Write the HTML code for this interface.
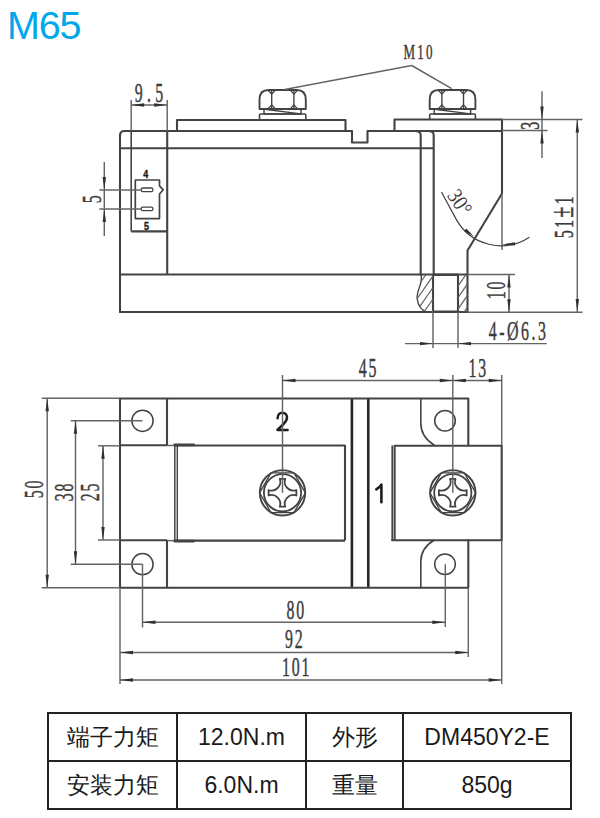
<!DOCTYPE html>
<html><head><meta charset="utf-8"><style>
html,body{margin:0;padding:0;background:#fff;width:600px;height:818px;overflow:hidden}
svg{position:absolute;left:0;top:0}
table{position:absolute;left:47px;top:711.5px;border-collapse:collapse;font-family:"Liberation Sans",sans-serif;font-size:23px;color:#1a1a1a}
td{border:2px solid #222;height:44px;padding:2px 0 0 0;text-align:center}
</style></head><body>
<svg width="600" height="818" viewBox="0 0 600 818" stroke-linecap="butt">
<text x="7" y="39.4" font-family="Liberation Sans, sans-serif" font-size="39.5" fill="#00a7eb" letter-spacing="-1.2">M65</text>
<path d="M120,312 L120,135.5 Q120,131 124.5,131 L352,131 L352,142.5 L367.5,142.5 L367.5,131 L502,131" stroke="#434343" stroke-width="2.1" fill="none" stroke-linejoin="round" stroke-linecap="round" />
<path d="M177,131 L177,120 L345.5,120 L345.5,131" stroke="#434343" stroke-width="2.1" fill="none" stroke-linejoin="round" stroke-linecap="round" />
<path d="M394.5,131 L394.5,119.5 L502,119.5 L502,193.5 L467.5,250.5 L467.5,312 L120,312" stroke="#434343" stroke-width="2.1" fill="none" stroke-linejoin="round" stroke-linecap="round" />
<line x1="120" y1="148.3" x2="434" y2="148.3" stroke="#434343" stroke-width="2.1"/>
<line x1="167.2" y1="131" x2="167.2" y2="274.5" stroke="#434343" stroke-width="2.1"/>
<line x1="131.2" y1="131" x2="131.2" y2="231.5" stroke="#3a3a3a" stroke-width="1.5"/>
<line x1="131.2" y1="231.4" x2="167.2" y2="231.4" stroke="#434343" stroke-width="2.1"/>
<line x1="120" y1="274.5" x2="467.5" y2="274.5" stroke="#434343" stroke-width="2.1"/>
<path d="M416.5,131.2 Q420.7,131.2 420.7,135.4 L420.7,274.5" stroke="#434343" stroke-width="2.1" fill="none" stroke-linejoin="round" stroke-linecap="round" />
<path d="M429.5,131.2 Q433.7,131.2 433.7,135.4 L433.7,274.5" stroke="#434343" stroke-width="2.1" fill="none" stroke-linejoin="round" stroke-linecap="round" />
<line x1="433" y1="274.5" x2="433" y2="312" stroke="#434343" stroke-width="2.1"/>
<line x1="458" y1="274.5" x2="458" y2="312" stroke="#434343" stroke-width="2.1"/>
<line x1="433" y1="274.8" x2="458" y2="274.8" stroke="#434343" stroke-width="2.4"/>
<line x1="433" y1="311.7" x2="458" y2="311.7" stroke="#434343" stroke-width="2.4"/>
<path d="M421,274.5 C423.5,283 416,291 417.2,299 C418,305 421.5,310 426,312" stroke="#434343" stroke-width="1.4" fill="none" stroke-linejoin="round" stroke-linecap="round" />
<clipPath id="hl"><path d="M421,274.5 C423.5,283 416,291 417.2,299 C418,305 421.5,310 426,312 L433,312 L433,274.5 Z"/></clipPath>
<clipPath id="hr"><rect x="458" y="274.5" width="9.5" height="37.5"/></clipPath>
<g clip-path="url(#hl)" stroke="#646464" stroke-width="1.25"><line x1="384" y1="312" x2="410" y2="274.5"/><line x1="392" y1="312" x2="418" y2="274.5"/><line x1="400" y1="312" x2="426" y2="274.5"/><line x1="408" y1="312" x2="434" y2="274.5"/><line x1="416" y1="312" x2="442" y2="274.5"/><line x1="424" y1="312" x2="450" y2="274.5"/><line x1="432" y1="312" x2="458" y2="274.5"/><line x1="440" y1="312" x2="466" y2="274.5"/><line x1="448" y1="312" x2="474" y2="274.5"/><line x1="456" y1="312" x2="482" y2="274.5"/><line x1="464" y1="312" x2="490" y2="274.5"/></g>
<g clip-path="url(#hr)" stroke="#646464" stroke-width="1.25"><line x1="384" y1="312" x2="410" y2="274.5"/><line x1="392" y1="312" x2="418" y2="274.5"/><line x1="400" y1="312" x2="426" y2="274.5"/><line x1="408" y1="312" x2="434" y2="274.5"/><line x1="416" y1="312" x2="442" y2="274.5"/><line x1="424" y1="312" x2="450" y2="274.5"/><line x1="432" y1="312" x2="458" y2="274.5"/><line x1="440" y1="312" x2="466" y2="274.5"/><line x1="448" y1="312" x2="474" y2="274.5"/><line x1="456" y1="312" x2="482" y2="274.5"/><line x1="464" y1="312" x2="490" y2="274.5"/></g>
<path d="M135.3,180 L159.5,180 L159.5,185.8 L163.2,189.8 L159.5,194 L159.5,218.6 L135.3,218.6 Z" stroke="#434343" stroke-width="1.7" fill="none" stroke-linejoin="round" stroke-linecap="round" />
<rect x="141.2" y="188" width="11.7" height="3.6" rx="1.6" fill="none" stroke="#434343" stroke-width="1.3"/>
<rect x="141.2" y="207.1" width="11.7" height="3.6" rx="1.6" fill="none" stroke="#434343" stroke-width="1.3"/>
<text x="145.7" y="177.5" font-family="Liberation Sans, sans-serif" font-size="11.5" font-weight="bold" fill="#222" stroke="#222" stroke-width="0.4" text-anchor="middle" textLength="5" lengthAdjust="spacingAndGlyphs">4</text>
<text x="146.5" y="229.8" font-family="Liberation Sans, sans-serif" font-size="11.5" font-weight="bold" fill="#222" stroke="#222" stroke-width="0.4" text-anchor="middle" textLength="5" lengthAdjust="spacingAndGlyphs">5</text>
<path d="M259.5,109 L259.5,99.5 C259.5,93 262.5,90 268.5,90 L296.8,90 C302.8,90 305.8,93 305.8,99.5 L305.8,109 Z" stroke="#434343" stroke-width="1.9" fill="none" stroke-linejoin="round" stroke-linecap="round" />
<line x1="271.7" y1="90" x2="271.7" y2="109" stroke="#434343" stroke-width="1.4"/>
<line x1="293.90000000000003" y1="90" x2="293.90000000000003" y2="109" stroke="#434343" stroke-width="1.4"/>
<path d="M267.9,90 L271.7,94.2 L275.5,90 M267.9,109 L271.7,104.8 L275.5,109" stroke="#434343" stroke-width="1.2" fill="none"/>
<path d="M290.1,90 L293.90000000000003,94.2 L297.70000000000005,90 M290.1,109 L293.90000000000003,104.8 L297.70000000000005,109" stroke="#434343" stroke-width="1.2" fill="none"/>
<path d="M264.0,109 L264.0,114 L301.0,114 L301.0,109" stroke="#434343" stroke-width="1.5" fill="none" stroke-linejoin="round" stroke-linecap="round" />
<path d="M266.5,109.5 L300.8,113.8" stroke="#434343" stroke-width="1.3" fill="none" stroke-linejoin="round" stroke-linecap="round" />
<path d="M259.5,119.5 L259.5,115 Q259.5,114 260.5,114 L304.8,114 Q305.8,114 305.8,115 L305.8,119.5" stroke="#434343" stroke-width="1.6" fill="none" stroke-linejoin="round" stroke-linecap="round" />
<path d="M429.7,109 L429.7,99.5 C429.7,93 432.7,90 438.7,90 L466.4,90 C472.4,90 475.4,93 475.4,99.5 L475.4,109 Z" stroke="#434343" stroke-width="1.9" fill="none" stroke-linejoin="round" stroke-linecap="round" />
<line x1="441.9" y1="90" x2="441.9" y2="109" stroke="#434343" stroke-width="1.4"/>
<line x1="463.5" y1="90" x2="463.5" y2="109" stroke="#434343" stroke-width="1.4"/>
<path d="M438.09999999999997,90 L441.9,94.2 L445.7,90 M438.09999999999997,109 L441.9,104.8 L445.7,109" stroke="#434343" stroke-width="1.2" fill="none"/>
<path d="M459.7,90 L463.5,94.2 L467.3,90 M459.7,109 L463.5,104.8 L467.3,109" stroke="#434343" stroke-width="1.2" fill="none"/>
<path d="M434.2,109 L434.2,114 L470.59999999999997,114 L470.59999999999997,109" stroke="#434343" stroke-width="1.5" fill="none" stroke-linejoin="round" stroke-linecap="round" />
<path d="M436.7,109.5 L470.4,113.8" stroke="#434343" stroke-width="1.3" fill="none" stroke-linejoin="round" stroke-linecap="round" />
<path d="M429.7,119.5 L429.7,115 Q429.7,114 430.7,114 L474.4,114 Q475.4,114 475.4,115 L475.4,119.5" stroke="#434343" stroke-width="1.6" fill="none" stroke-linejoin="round" stroke-linecap="round" />
<line x1="411.7" y1="65.5" x2="284.7" y2="89.5" stroke="#646464" stroke-width="1.45"/>
<line x1="411.7" y1="65.5" x2="451.7" y2="88.7" stroke="#646464" stroke-width="1.45"/>
<g class="t" transform="translate(418,59) rotate(0) scale(0.65,1)"><text x="1.7" y="0" font-family="Liberation Serif, serif" font-size="20" fill="#3c3c3c" stroke="#3c3c3c" stroke-width="0.45" text-anchor="middle" letter-spacing="3.4">M10</text></g>
<line x1="131.2" y1="100" x2="131.2" y2="131" stroke="#646464" stroke-width="1.45"/>
<line x1="167.2" y1="100" x2="167.2" y2="131" stroke="#646464" stroke-width="1.45"/>
<line x1="131.2" y1="105" x2="167.2" y2="105" stroke="#646464" stroke-width="1.45"/>
<path d="M131.20,105.00 L144.20,103.30 L144.20,106.70 Z" fill="#303030"/>
<path d="M167.20,105.00 L154.20,106.70 L154.20,103.30 Z" fill="#303030"/>
<g class="t" transform="translate(149,102) rotate(0) scale(0.6,1)"><text x="3.5" y="0" font-family="Liberation Serif, serif" font-size="26.5" fill="#3c3c3c" stroke="#3c3c3c" stroke-width="0.45" text-anchor="middle" letter-spacing="7">9.5</text></g>
<line x1="99.3" y1="189.9" x2="141" y2="189.9" stroke="#646464" stroke-width="1.45"/>
<line x1="99.3" y1="208.9" x2="141" y2="208.9" stroke="#646464" stroke-width="1.45"/>
<line x1="104.3" y1="162" x2="104.3" y2="236" stroke="#646464" stroke-width="1.45"/>
<path d="M104.30,189.90 L102.60,176.90 L106.00,176.90 Z" fill="#303030"/>
<path d="M104.30,209.00 L106.00,222.00 L102.60,222.00 Z" fill="#303030"/>
<g class="t" transform="translate(101,199.3) rotate(-90) scale(0.6,1)"><text x="1.5" y="0" font-family="Liberation Serif, serif" font-size="26.5" fill="#3c3c3c" stroke="#3c3c3c" stroke-width="0.45" text-anchor="middle" letter-spacing="3.0">5</text></g>
<line x1="502" y1="119.5" x2="582.5" y2="119.5" stroke="#646464" stroke-width="1.45"/>
<line x1="502" y1="130.5" x2="547.5" y2="130.5" stroke="#646464" stroke-width="1.45"/>
<line x1="542" y1="91.3" x2="542" y2="158" stroke="#646464" stroke-width="1.45"/>
<path d="M542.00,119.50 L540.30,106.50 L543.70,106.50 Z" fill="#303030"/>
<path d="M542.00,130.50 L543.70,143.50 L540.30,143.50 Z" fill="#303030"/>
<g class="t" transform="translate(538.7,125.6) rotate(-90) scale(0.6,1)"><text x="1.5" y="0" font-family="Liberation Serif, serif" font-size="27" fill="#3c3c3c" stroke="#3c3c3c" stroke-width="0.45" text-anchor="middle" letter-spacing="3.0">3</text></g>
<line x1="577.3" y1="119.5" x2="577.3" y2="312" stroke="#646464" stroke-width="1.45"/>
<path d="M577.30,119.50 L579.00,132.50 L575.60,132.50 Z" fill="#303030"/>
<path d="M577.30,312.00 L575.60,299.00 L579.00,299.00 Z" fill="#303030"/>
<g class="t" transform="translate(573.2,217.3) rotate(-90) scale(0.6,1)"><text x="1.75" y="0" font-family="Liberation Serif, serif" font-size="27" fill="#3c3c3c" stroke="#3c3c3c" stroke-width="0.45" text-anchor="middle" letter-spacing="3.5">51<tspan font-size="34">±</tspan>1</text></g>
<line x1="467.5" y1="274.5" x2="515" y2="274.5" stroke="#646464" stroke-width="1.45"/>
<line x1="467.5" y1="312.3" x2="582.5" y2="312.3" stroke="#646464" stroke-width="1.45"/>
<line x1="509" y1="274.5" x2="509" y2="312" stroke="#646464" stroke-width="1.45"/>
<path d="M509.00,274.50 L510.70,287.50 L507.30,287.50 Z" fill="#303030"/>
<path d="M509.00,312.30 L507.30,299.30 L510.70,299.30 Z" fill="#303030"/>
<g class="t" transform="translate(505,290.5) rotate(-90) scale(0.6,1)"><text x="1.5" y="0" font-family="Liberation Serif, serif" font-size="26.5" fill="#3c3c3c" stroke="#3c3c3c" stroke-width="0.45" text-anchor="middle" letter-spacing="3.0">10</text></g>
<line x1="433" y1="312" x2="433" y2="348" stroke="#646464" stroke-width="1.45"/>
<line x1="458" y1="312" x2="458" y2="348" stroke="#646464" stroke-width="1.45"/>
<line x1="405" y1="343.6" x2="546.8" y2="343.6" stroke="#646464" stroke-width="1.45"/>
<path d="M433.00,343.60 L420.00,345.30 L420.00,341.90 Z" fill="#303030"/>
<path d="M458.00,343.60 L471.00,341.90 L471.00,345.30 Z" fill="#303030"/>
<g class="t" transform="translate(517.3,340.2) rotate(0) scale(0.6,1)"><text x="2.1" y="0" font-family="Liberation Serif, serif" font-size="26.5" fill="#3c3c3c" stroke="#3c3c3c" stroke-width="0.45" text-anchor="middle" letter-spacing="4.2">4-Ø6.3</text></g>
<line x1="502" y1="193.5" x2="502" y2="250" stroke="#646464" stroke-width="1.45"/>
<path d="M441.7,192.5 L456.4,219.6 A51.3,51.3 0 0 0 529,237.5" stroke="#434343" stroke-width="1.2" fill="none" stroke-linejoin="round" stroke-linecap="round" />
<path d="M474.00,236.50 L464.18,231.26 L466.22,228.54 Z" fill="#303030"/>
<path d="M502.00,244.50 L514.90,242.15 L515.07,245.55 Z" fill="#303030"/>
<text x="0" y="0" font-family="Liberation Serif, serif" font-size="22" fill="#3c3c3c" textLength="26" lengthAdjust="spacingAndGlyphs" transform="translate(446.5,195.5) rotate(56)">30°</text>
<path d="M468.3,445 L468.3,398.5 L120,398.5 L120,587.7 L468.3,587.7 L468.3,540" stroke="#434343" stroke-width="2.1" fill="none" stroke-linejoin="round" stroke-linecap="round" />
<line x1="120" y1="445.3" x2="167" y2="445.3" stroke="#434343" stroke-width="2.1"/>
<line x1="167" y1="445.5" x2="175" y2="445.5" stroke="#646464" stroke-width="1.45"/>
<line x1="175" y1="445.5" x2="345" y2="445.5" stroke="#434343" stroke-width="2.1"/>
<path d="M174.6,444.9 L193.8,444.9" stroke="#434343" stroke-width="2.6" fill="none" stroke-linejoin="round" stroke-linecap="round" />
<line x1="167" y1="398.5" x2="167" y2="445" stroke="#434343" stroke-width="2.1"/>
<line x1="120" y1="540.3" x2="167" y2="540.3" stroke="#434343" stroke-width="2.1"/>
<line x1="167" y1="540.6" x2="175" y2="540.6" stroke="#646464" stroke-width="1.45"/>
<line x1="175" y1="540.6" x2="345" y2="540.6" stroke="#434343" stroke-width="2.1"/>
<path d="M174.6,541.1 L193.8,541.1" stroke="#434343" stroke-width="2.6" fill="none" stroke-linejoin="round" stroke-linecap="round" />
<line x1="167" y1="540.3" x2="167" y2="587.7" stroke="#434343" stroke-width="2.1"/>
<path d="M174.8,445 L174.8,541" stroke="#434343" stroke-width="1.5" fill="none" stroke-linejoin="round" stroke-linecap="round" />
<path d="M177.3,445.5 L177.3,540.5" stroke="#434343" stroke-width="1.4" fill="none" stroke-linejoin="round" stroke-linecap="round" />
<line x1="345" y1="445" x2="345" y2="540.3" stroke="#434343" stroke-width="2.1"/>
<circle cx="142.5" cy="420.8" r="10.6" fill="none" stroke="#434343" stroke-width="1.5"/>
<circle cx="142.5" cy="564.2" r="10.6" fill="none" stroke="#434343" stroke-width="1.5"/>
<circle cx="445" cy="420.8" r="10.3" fill="none" stroke="#434343" stroke-width="1.5"/>
<circle cx="445" cy="564.2" r="10.3" fill="none" stroke="#434343" stroke-width="1.5"/>
<path d="M420.8,398.5 L420.8,423 C420.8,434 426,440 434,445" stroke="#434343" stroke-width="1.6" fill="none" stroke-linejoin="round" stroke-linecap="round" />
<path d="M420.8,587.7 L420.8,561.7 C420.8,551 426,545 434,540.3" stroke="#434343" stroke-width="1.6" fill="none" stroke-linejoin="round" stroke-linecap="round" />
<path d="M351.9,400 L351.9,586" stroke="#262626" stroke-width="2.6" fill="none" stroke-linejoin="round" stroke-linecap="round" />
<path d="M368.3,400 L368.3,586" stroke="#262626" stroke-width="2.6" fill="none" stroke-linejoin="round" stroke-linecap="round" />
<path d="M394.6,540.3 L394.6,445.8 L501.7,445.8 L501.7,540.3 L392.2,540.3" stroke="#434343" stroke-width="2.1" fill="none" stroke-linejoin="round" stroke-linecap="round" />
<path d="M392.2,446 L392.2,540.3" stroke="#434343" stroke-width="1.6" fill="none" stroke-linejoin="round" stroke-linecap="round" />
<circle cx="282.5" cy="492.8" r="22.7" fill="none" stroke="#434343" stroke-width="1.9"/>
<circle cx="282.5" cy="492.8" r="18.6" fill="none" stroke="#434343" stroke-width="1.8"/>
<polygon points="305.40,492.80 293.95,512.63 271.05,512.63 259.60,492.80 271.05,472.97 293.95,472.97" fill="none" stroke="#434343" stroke-width="1.3"/>
<path d="M279.8,478.90000000000003 L285.2,478.90000000000003 A8.8,8.8 0 0 0 296.4,490.1 L296.4,495.5 A8.8,8.8 0 0 0 285.2,506.7 L279.8,506.7 A8.8,8.8 0 0 0 268.6,495.5 L268.6,490.1 A8.8,8.8 0 0 0 279.8,478.90000000000003 Z" stroke="#434343" stroke-width="1.8" fill="none" stroke-linejoin="round" stroke-linecap="round" />
<circle cx="452.8" cy="492.8" r="22.7" fill="none" stroke="#434343" stroke-width="1.9"/>
<circle cx="452.8" cy="492.8" r="18.6" fill="none" stroke="#434343" stroke-width="1.8"/>
<polygon points="475.70,492.80 464.25,512.63 441.35,512.63 429.90,492.80 441.35,472.97 464.25,472.97" fill="none" stroke="#434343" stroke-width="1.3"/>
<path d="M450.1,478.90000000000003 L455.5,478.90000000000003 A8.8,8.8 0 0 0 466.7,490.1 L466.7,495.5 A8.8,8.8 0 0 0 455.5,506.7 L450.1,506.7 A8.8,8.8 0 0 0 438.90000000000003,495.5 L438.90000000000003,490.1 A8.8,8.8 0 0 0 450.1,478.90000000000003 Z" stroke="#434343" stroke-width="1.8" fill="none" stroke-linejoin="round" stroke-linecap="round" />
<path d="M277.6,418.2 C277.6,414.6 279.8,412.7 282.4,412.7 C285.2,412.7 287,414.8 287,417.6 C287,420.2 285.6,421.9 283.6,424 L277.4,429.9 L287.6,429.9" stroke="#1e1e1e" stroke-width="2.5" fill="none" stroke-linejoin="round" stroke-linecap="round" />
<path d="M376.3,489.3 C378.5,488 380.3,486.5 381.4,484.6 L381.4,502.3" stroke="#1e1e1e" stroke-width="2.6" fill="none" stroke-linejoin="round" stroke-linecap="round" />
<line x1="41.7" y1="398.3" x2="120" y2="398.3" stroke="#646464" stroke-width="1.45"/>
<line x1="41.7" y1="587.7" x2="120" y2="587.7" stroke="#646464" stroke-width="1.45"/>
<line x1="47.2" y1="398.3" x2="47.2" y2="587.7" stroke="#646464" stroke-width="1.45"/>
<path d="M47.20,398.30 L48.90,411.30 L45.50,411.30 Z" fill="#303030"/>
<path d="M47.20,587.70 L45.50,574.70 L48.90,574.70 Z" fill="#303030"/>
<g class="t" transform="translate(42.5,489.5) rotate(-90) scale(0.6,1)"><text x="1.5" y="0" font-family="Liberation Serif, serif" font-size="26.5" fill="#3c3c3c" stroke="#3c3c3c" stroke-width="0.45" text-anchor="middle" letter-spacing="3.0">50</text></g>
<line x1="70.8" y1="420.8" x2="142.5" y2="420.8" stroke="#646464" stroke-width="1.45"/>
<line x1="70.8" y1="564.2" x2="142.5" y2="564.2" stroke="#646464" stroke-width="1.45"/>
<line x1="75.5" y1="420.8" x2="75.5" y2="564.2" stroke="#646464" stroke-width="1.45"/>
<path d="M75.50,420.80 L77.20,433.80 L73.80,433.80 Z" fill="#303030"/>
<path d="M75.50,564.20 L73.80,551.20 L77.20,551.20 Z" fill="#303030"/>
<g class="t" transform="translate(72.5,492.3) rotate(-90) scale(0.6,1)"><text x="1.5" y="0" font-family="Liberation Serif, serif" font-size="26.5" fill="#3c3c3c" stroke="#3c3c3c" stroke-width="0.45" text-anchor="middle" letter-spacing="3.0">38</text></g>
<line x1="98" y1="445.8" x2="120" y2="445.8" stroke="#646464" stroke-width="1.45"/>
<line x1="98" y1="540" x2="120" y2="540" stroke="#646464" stroke-width="1.45"/>
<line x1="103" y1="445.8" x2="103" y2="540" stroke="#646464" stroke-width="1.45"/>
<path d="M103.00,445.80 L104.70,458.80 L101.30,458.80 Z" fill="#303030"/>
<path d="M103.00,540.00 L101.30,527.00 L104.70,527.00 Z" fill="#303030"/>
<g class="t" transform="translate(99.2,492.3) rotate(-90) scale(0.6,1)"><text x="1.5" y="0" font-family="Liberation Serif, serif" font-size="26.5" fill="#3c3c3c" stroke="#3c3c3c" stroke-width="0.45" text-anchor="middle" letter-spacing="3.0">25</text></g>
<line x1="282.5" y1="375" x2="282.5" y2="492.8" stroke="#646464" stroke-width="1.45"/>
<line x1="452.8" y1="375" x2="452.8" y2="492.8" stroke="#646464" stroke-width="1.45"/>
<line x1="501.7" y1="375" x2="501.7" y2="445.5" stroke="#646464" stroke-width="1.45"/>
<line x1="282.5" y1="380.5" x2="501.7" y2="380.5" stroke="#646464" stroke-width="1.45"/>
<path d="M282.50,380.50 L295.50,378.80 L295.50,382.20 Z" fill="#303030"/>
<path d="M452.80,380.50 L439.80,382.20 L439.80,378.80 Z" fill="#303030"/>
<path d="M452.80,380.50 L465.80,378.80 L465.80,382.20 Z" fill="#303030"/>
<path d="M501.70,380.50 L488.70,382.20 L488.70,378.80 Z" fill="#303030"/>
<g class="t" transform="translate(367.5,376.5) rotate(0) scale(0.6,1)"><text x="1.5" y="0" font-family="Liberation Serif, serif" font-size="26.5" fill="#3c3c3c" stroke="#3c3c3c" stroke-width="0.45" text-anchor="middle" letter-spacing="3.0">45</text></g>
<g class="t" transform="translate(477.3,376.7) rotate(0) scale(0.6,1)"><text x="1.5" y="0" font-family="Liberation Serif, serif" font-size="26.5" fill="#3c3c3c" stroke="#3c3c3c" stroke-width="0.45" text-anchor="middle" letter-spacing="3.0">13</text></g>
<line x1="142.5" y1="564.2" x2="142.5" y2="627.5" stroke="#646464" stroke-width="1.45"/>
<line x1="445.3" y1="564.2" x2="445.3" y2="627" stroke="#646464" stroke-width="1.45"/>
<line x1="142.5" y1="622.2" x2="445.3" y2="622.2" stroke="#646464" stroke-width="1.45"/>
<path d="M142.50,622.20 L155.50,620.50 L155.50,623.90 Z" fill="#303030"/>
<path d="M445.30,622.20 L432.30,623.90 L432.30,620.50 Z" fill="#303030"/>
<g class="t" transform="translate(295.3,618.7) rotate(0) scale(0.6,1)"><text x="1.5" y="0" font-family="Liberation Serif, serif" font-size="26.5" fill="#3c3c3c" stroke="#3c3c3c" stroke-width="0.45" text-anchor="middle" letter-spacing="3.0">80</text></g>
<line x1="120" y1="587.7" x2="120" y2="684" stroke="#646464" stroke-width="1.45"/>
<line x1="468.3" y1="587.7" x2="468.3" y2="657" stroke="#646464" stroke-width="1.45"/>
<line x1="501.7" y1="540.3" x2="501.7" y2="684" stroke="#646464" stroke-width="1.45"/>
<line x1="120" y1="652.5" x2="468.3" y2="652.5" stroke="#646464" stroke-width="1.45"/>
<path d="M120.00,652.50 L133.00,650.80 L133.00,654.20 Z" fill="#303030"/>
<path d="M468.30,652.50 L455.30,654.20 L455.30,650.80 Z" fill="#303030"/>
<g class="t" transform="translate(293.8,648.3) rotate(0) scale(0.6,1)"><text x="1.5" y="0" font-family="Liberation Serif, serif" font-size="26.5" fill="#3c3c3c" stroke="#3c3c3c" stroke-width="0.45" text-anchor="middle" letter-spacing="3.0">92</text></g>
<line x1="120" y1="680" x2="501.7" y2="680" stroke="#646464" stroke-width="1.45"/>
<path d="M120.00,680.00 L133.00,678.30 L133.00,681.70 Z" fill="#303030"/>
<path d="M501.70,680.00 L488.70,681.70 L488.70,678.30 Z" fill="#303030"/>
<g class="t" transform="translate(295.7,676) rotate(0) scale(0.6,1)"><text x="1.5" y="0" font-family="Liberation Serif, serif" font-size="26.5" fill="#3c3c3c" stroke="#3c3c3c" stroke-width="0.45" text-anchor="middle" letter-spacing="3.0">101</text></g>
</svg>
<table>
<tr><td style="width:127px">端子力矩</td><td style="width:127px">12.0N.m</td><td style="width:95px">外形</td><td style="width:166px">DM450Y2-E</td></tr>
<tr><td>安装力矩</td><td>6.0N.m</td><td>重量</td><td>850g</td></tr>
</table>
</body></html>
